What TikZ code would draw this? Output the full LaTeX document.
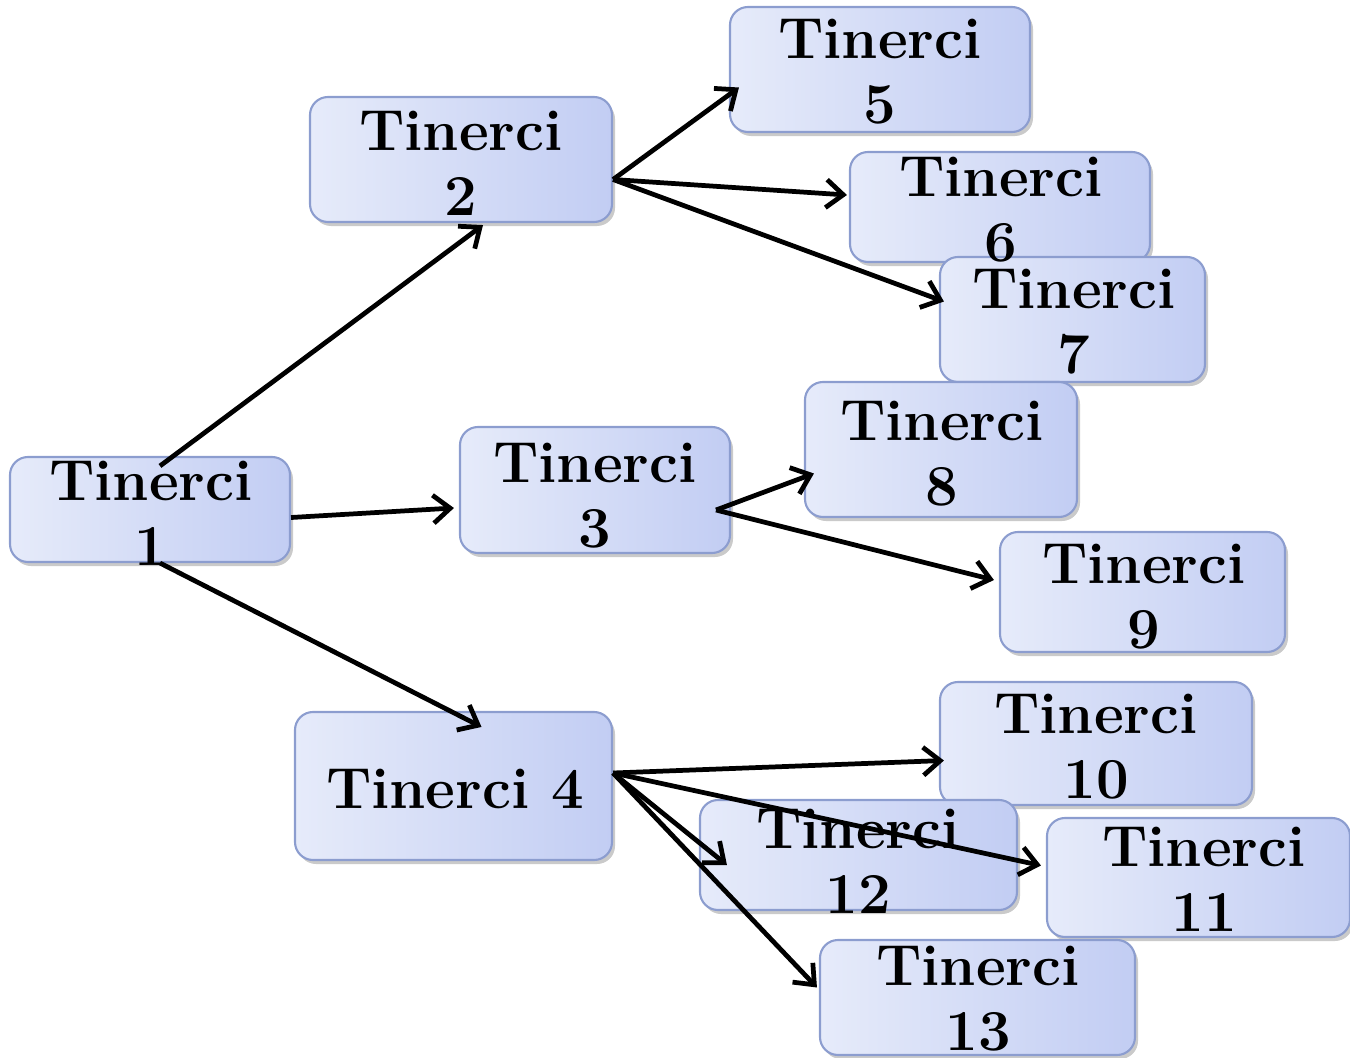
\documentclass[tikz,border=0pt]{standalone}
\usetikzlibrary{arrows.meta,shadows,calc}
\definecolor{boxL}{HTML}{E6EBFA}
\definecolor{boxR}{HTML}{C2CDF3}
\definecolor{boxB}{HTML}{8C9DCF}
\tikzset{
  box/.style={rectangle, rounded corners=0.36cm, draw=boxB, line width=1.2pt,
    left color=boxL, right color=boxR, inner sep=0pt,
    drop shadow={shadow xshift=0.06cm, shadow yshift=-0.08cm, opacity=0.35, fill=black!60}},
  lab/.style={anchor=base, inner sep=0pt, font=\fontsize{33}{37}\selectfont\bfseries},
  arr/.style={line width=2.7pt, -{Straight Barb[length=0.34cm, width=0.56cm, line width=2.7pt]}}
}
\newcommand{\twol}[2]{\begin{tabular}[t]{@{}c@{}}#1\\#2\end{tabular}}
\begin{document}
\begin{tikzpicture}[x=0.02cm,y=-0.02cm]
\useasboundingbox (0,0) rectangle (1350,1058);
% boxes
\node[box, minimum width=280*0.02cm, minimum height=105*0.02cm] (n1) at (150,509.5) {};
\node[box, minimum width=302*0.02cm, minimum height=125*0.02cm] (n2) at (461,159.5) {};
\node[box, minimum width=270*0.02cm, minimum height=126*0.02cm] (n3) at (595,490) {};
\node[box, minimum width=317*0.02cm, minimum height=148*0.02cm] (n4) at (453.5,786) {};
\node[box, minimum width=300*0.02cm, minimum height=125*0.02cm] (n5) at (880,69.5) {};
\node[box, minimum width=300*0.02cm, minimum height=110*0.02cm] (n6) at (1000,207) {};
\node[box, minimum width=265*0.02cm, minimum height=125*0.02cm] (n7) at (1072.5,319.5) {};
\node[box, minimum width=272*0.02cm, minimum height=135*0.02cm] (n8) at (941,449.5) {};
\node[box, minimum width=285*0.02cm, minimum height=120*0.02cm] (n9) at (1142.5,592) {};
\node[box, minimum width=312*0.02cm, minimum height=123*0.02cm] (n10) at (1096,743.5) {};
\node[box, minimum width=303*0.02cm, minimum height=119*0.02cm] (n11) at (1198.5,877.5) {};
\node[box, minimum width=317*0.02cm, minimum height=110*0.02cm] (n12) at (858.5,855) {};
\node[box, minimum width=315*0.02cm, minimum height=115*0.02cm] (n13) at (977.5,997.5) {};
% texts
\node[lab] (t1) at (151,500) {\twol{Tinerci}{1}};
\node[lab] (t2) at (461,150) {\twol{Tinerci}{2}};
\node[lab] (t3) at (595,482) {\twol{Tinerci}{3}};
\node[lab] (t4) at (455,808) {Tinerci 4};
\node[lab] (t5) at (880,58) {\twol{Tinerci}{5}};
\node[lab] (t6) at (1001,196) {\twol{Tinerci}{6}};
\node[lab] (t7) at (1074,308) {\twol{Tinerci}{7}};
\node[lab] (t8) at (942,440) {\twol{Tinerci}{8}};
\node[lab] (t9) at (1144,583) {\twol{Tinerci}{9}};
\node[lab] (t10) at (1096,733) {\twol{Tinerci}{10}};
\node[lab] (t11) at (1204,866) {\twol{Tinerci}{11}};
\node[lab] (t12) at (858,848) {\twol{Tinerci}{12}};
\node[lab] (t13) at (978,985) {\twol{Tinerci}{13}};
% connector end points
\coordinate (s1a) at ($(n1.north)+(10,10)$);
\coordinate (s1b) at ($(n1.east)+(0,8)$);
\coordinate (s1c) at ($(n1.south)+(10,0)$);
\coordinate (s2) at ($(n2.east)+(0,20)$);
\coordinate (s3) at ($(n3.east)+(-15,20)$);
\coordinate (s4) at ($(n4.east)+(0,-13)$);
% arrows
\draw[arr] (s1a) -- ($(n2.south)+(22,2)$);
\draw[arr] (s1b) -- ($(n3.west)+(-5,18)$);
\draw[arr] (s1c) -- ($(n4.north)+(28,16)$);
\draw[arr] (s2) -- ($(n5.west)+(10,18)$);
\draw[arr] (s2) -- ($(n6.west)+(-2,-12)$);
\draw[arr] (s2) -- ($(n7.west)+(5,-18)$);
\draw[arr] (s3) -- ($(n8.west)+(10,24)$);
\draw[arr] (s3) -- ($(n9.west)+(-5,-12)$);
\draw[arr] (s4) -- ($(n10.west)+(5,17)$);
\draw[arr] (s4) -- ($(n11.west)+(-5,-12)$);
\draw[arr] (s4) -- ($(n12.west)+(28,10)$);
\draw[arr] (s4) -- ($(n13.west)+(-2,-10)$);
\end{tikzpicture}
\end{document}
